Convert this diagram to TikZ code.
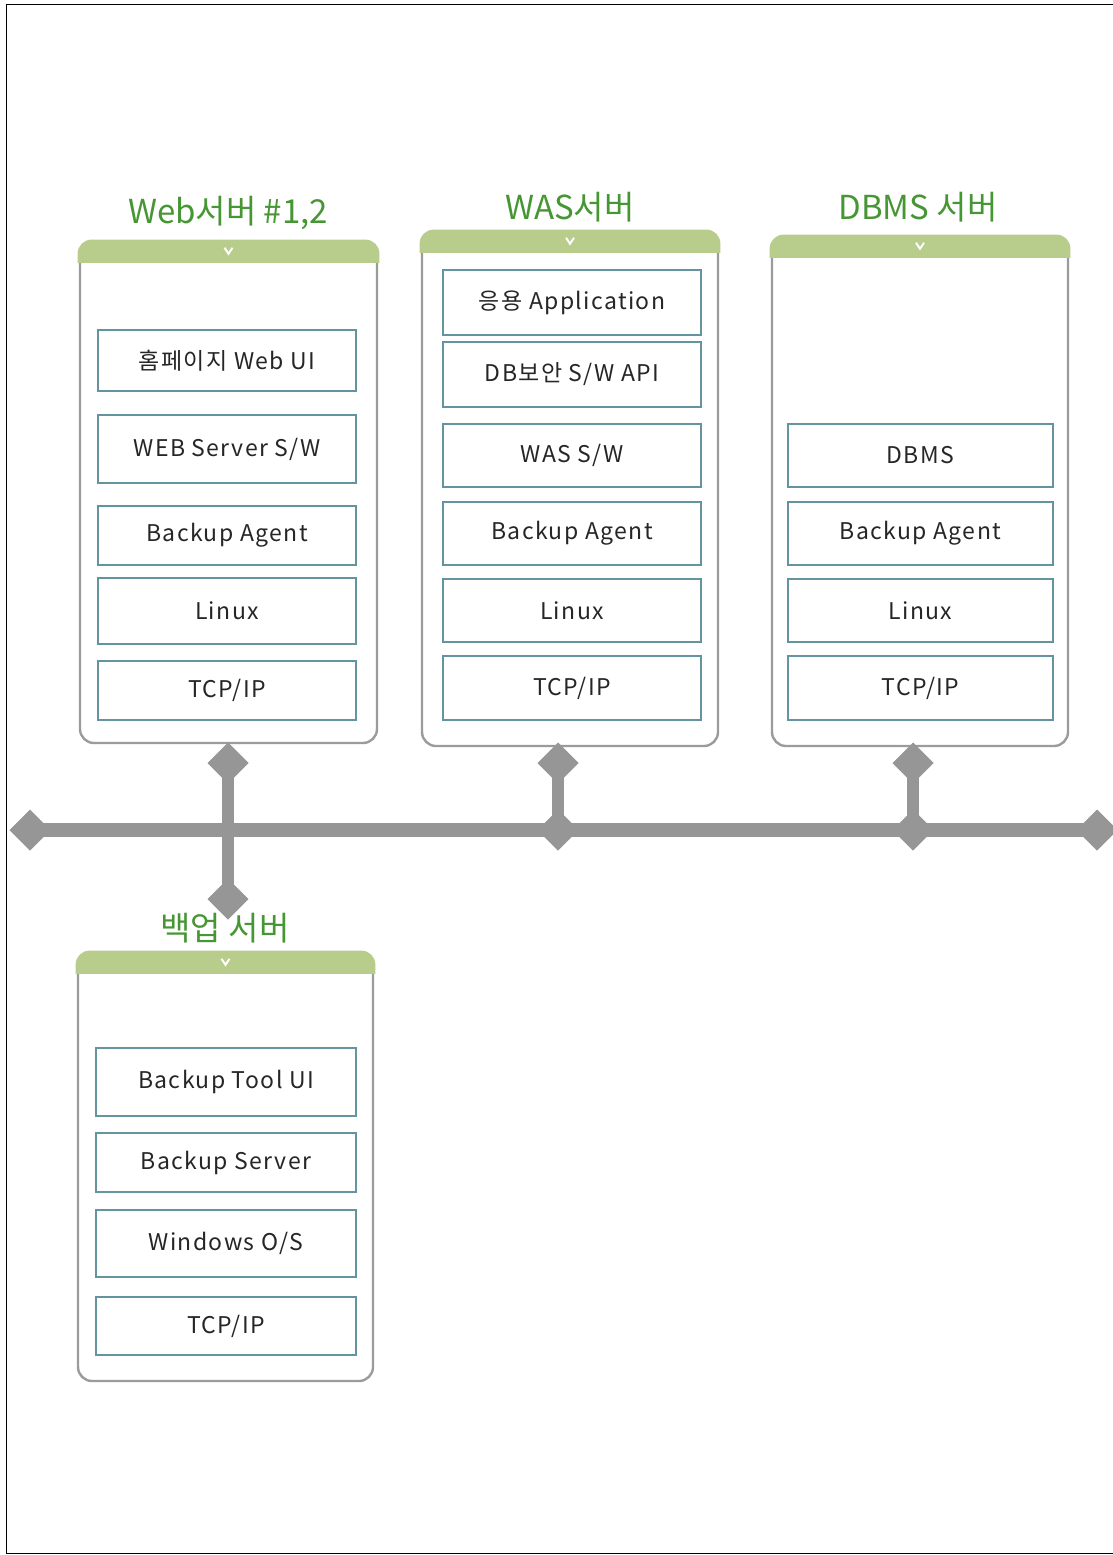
\documentclass[tikz,border=0pt]{standalone}
\usepackage{fontspec}
\setmainfont{Noto Sans CJK KR}
\definecolor{hdr}{RGB}{184,204,140}
\definecolor{titlegreen}{RGB}{70,150,52}
\definecolor{boxline}{RGB}{100,148,160}
\definecolor{srvline}{RGB}{155,155,155}
\definecolor{busgray}{RGB}{150,150,150}
\begin{document}
\begin{tikzpicture}[x=1pt,y=-1pt,
  layer/.style={draw=boxline, fill=white, line width=1.4pt, inner sep=0pt,
    font=\fontsize{23}{23}\selectfont\addfontfeatures{LetterSpace=6}, text=black!85},
  server/.style={draw=srvline, line width=2.4pt, fill=white, rounded corners=14pt, inner sep=0pt},
  title/.style={text=titlegreen, font=\fontsize{33}{33}\selectfont},
  busline/.style={draw=busgray, line width=14pt},
  stub/.style={draw=busgray, line width=12pt},
  dia/.style={fill=busgray, minimum size=29pt, inner sep=0pt, rotate=45},
  chev/.style={draw=white, line width=2pt}
]
\useasboundingbox[fill=white] (0,0) rectangle (1113,1555);
\draw[line width=1pt] (1120,5) -- (6,5) -- (6,1553) -- (1120,1553);

% servers
\node[server, minimum width=297pt, minimum height=501pt] (web) at (228.5,492.5) {};
\node[server, minimum width=296pt, minimum height=514pt] (was) at (570,489) {};
\node[server, minimum width=296pt, minimum height=509pt] (dbms) at (920,491.5) {};
\node[server, minimum width=295pt, minimum height=428pt] (bak) at (225.5,1167) {};

% headers
\foreach \s in {web,was,dbms,bak}{
  \begin{scope}
    \clip ([xshift=-3pt,yshift=3pt]\s.north west) rectangle ([xshift=3pt,yshift=-22pt]\s.north east);
    \fill[hdr, rounded corners=14pt] ([xshift=-1.2pt,yshift=1.2pt]\s.north west) rectangle ([xshift=1.2pt]\s.south east);
  \end{scope}
  \draw[chev] ([xshift=-4pt,yshift=-7pt]\s.north) -- ([yshift=-13pt]\s.north) -- ([xshift=4pt,yshift=-7pt]\s.north);
}

% titles
\node[title] (tweb) at (228,213) {Web서버 \#1,2};
\node[title] (twas) at (570,207) {WAS서버};
\node[title] (tdbms) at (918,207) {DBMS 서버};
\node[title] (tbak) at (225,928) {백업 서버};

% web layers
\node[layer, minimum width=258pt, minimum height=61pt] (w1) at (227,360.5) {홈페이지 Web UI};
\node[layer, minimum width=258pt, minimum height=68pt] (w2) at (227,449) {WEB Server S/W};
\node[layer, minimum width=258pt, minimum height=59pt] (w3) at (227,535.5) {Backup Agent};
\node[layer, minimum width=258pt, minimum height=66pt] (w4) at (227,611) {Linux};
\node[layer, minimum width=258pt, minimum height=59pt] (w5) at (227,690.5) {TCP/IP};

% was layers
\node[layer, minimum width=258pt, minimum height=65pt] (a1) at (572,302.5) {응용 Application};
\node[layer, minimum width=258pt, minimum height=65pt] (a2) at (572,374.5) {DB보안 S/W API};
\node[layer, minimum width=258pt, minimum height=63pt] (a3) at (572,455.5) {WAS S/W};
\node[layer, minimum width=258pt, minimum height=63pt] (a4) at (572,533.5) {Backup Agent};
\node[layer, minimum width=258pt, minimum height=63pt] (a5) at (572,610.5) {Linux};
\node[layer, minimum width=258pt, minimum height=64pt] (a6) at (572,688) {TCP/IP};

% dbms layers
\node[layer, minimum width=265pt, minimum height=63pt] (d1) at (920.5,455.5) {DBMS};
\node[layer, minimum width=265pt, minimum height=63pt] (d2) at (920.5,533.5) {Backup Agent};
\node[layer, minimum width=265pt, minimum height=63pt] (d3) at (920.5,610.5) {Linux};
\node[layer, minimum width=265pt, minimum height=64pt] (d4) at (920.5,688) {TCP/IP};

% backup layers
\node[layer, minimum width=260pt, minimum height=68pt] (b1) at (226,1082) {Backup Tool UI};
\node[layer, minimum width=260pt, minimum height=59pt] (b2) at (226,1162.5) {Backup Server};
\node[layer, minimum width=260pt, minimum height=67pt] (b3) at (226,1243.5) {Windows O/S};
\node[layer, minimum width=260pt, minimum height=58pt] (b4) at (226,1326) {TCP/IP};

% network
\coordinate (busL) at (30,830);
\coordinate (busR) at (1097,830);
\coordinate (webT) at (228,763);
\coordinate (webB) at (228,899);
\coordinate (wasT) at (558,763);
\coordinate (wasJ) at (558,830);
\coordinate (dbT) at (913,763);
\coordinate (dbJ) at (913,830);

\draw[busline] (busL) -- (busR);
\draw[stub] (webT) -- (webB);
\draw[stub] (wasT) -- (wasJ);
\draw[stub] (dbT) -- (dbJ);

\node[dia] (dL) at (busL) {};
\node[dia] (dR) at (busR) {};
\node[dia] (dwT) at (webT) {};
\node[dia] (dwB) at (webB) {};
\node[dia] (daT) at (wasT) {};
\node[dia] (daJ) at (wasJ) {};
\node[dia] (ddT) at (dbT) {};
\node[dia] (ddJ) at (dbJ) {};
\end{tikzpicture}
\end{document}
